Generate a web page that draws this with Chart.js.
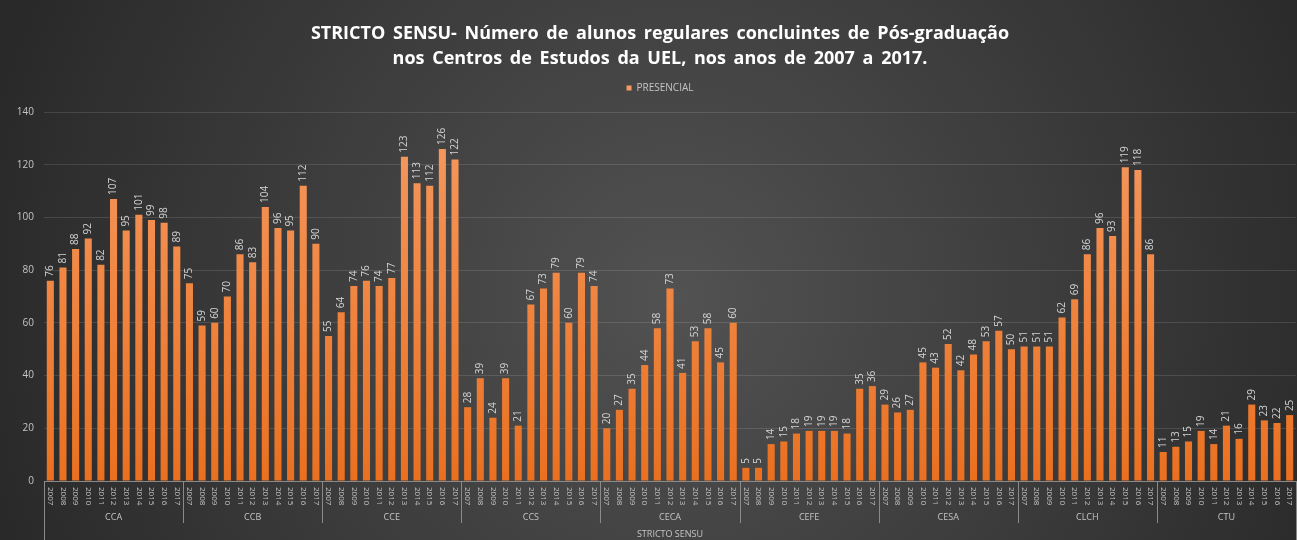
<!DOCTYPE html>
<html>
<head>
<meta charset="utf-8">
<script src="https://cdn.jsdelivr.net/npm/chart.js"></script>
<style>
  html, body { margin: 0; padding: 0; background: #2a2a2a; }
  #wrap { width: 1297px; height: 540px; }
</style>
</head>
<body>
<div id="wrap"><canvas id="chart" width="1297" height="540"></canvas></div>
<script>
const years  = ['2007','2008','2009','2010','2011','2012','2013','2014','2015','2016','2017'];
const groups = ['CCA','CCB','CCE','CCS','CECA','CEFE','CESA','CLCH','CTU'];
const outerLabel = 'STRICTO SENSU';

const cca  = [76, 81, 88, 92, 82, 107, 95, 101, 99, 98, 89];
const ccb  = [75, 59, 60, 70, 86, 83, 104, 96, 95, 112, 90];
const cce  = [55, 64, 74, 76, 74, 77, 123, 113, 112, 126, 122];
const ccs  = [28, 39, 24, 39, 21, 67, 73, 79, 60, 79, 74];
const ceca = [20, 27, 35, 44, 58, 73, 41, 53, 58, 45, 60];
const cefe = [5, 5, 14, 15, 18, 19, 19, 19, 18, 35, 36];
const cesa = [29, 26, 27, 45, 43, 52, 42, 48, 53, 57, 50];
const clch = [51, 51, 51, 62, 69, 86, 96, 93, 119, 118, 86];
const ctu  = [11, 13, 15, 19, 14, 21, 16, 29, 23, 22, 25];

const seriesByGroup = [cca, ccb, cce, ccs, ceca, cefe, cesa, clch, ctu];
const labels = groups.flatMap(() => years);
const values = seriesByGroup.flat();

const txtColor = '#c4c4c4';
const font = '"Open Sans", "Liberation Sans", sans-serif';

// shift a layout box (title / legend) sideways, Excel centres them a bit right
function nudge(box, ctx, dx) {
  if (!box || box._nudged) return;
  const orig = box.draw.bind(box);
  box.draw = function (...a) {
    ctx.save();
    ctx.translate(dx, 0);
    orig(...a);
    ctx.restore();
  };
  box._nudged = true;
}

// dark radial background like the Excel theme; also widens the title's word gaps
const bgPlugin = {
  id: 'bg',
  beforeDraw(chart) {
    const { ctx, width, height } = chart;
    nudge(chart.titleBlock, ctx, 12);
    nudge(chart.legend, ctx, 12);
    const g = ctx.createRadialGradient(width * 0.52, height * 0.55, 0, width * 0.52, height * 0.55, width * 0.55);
    g.addColorStop(0, '#525252');
    g.addColorStop(1, '#292929');
    ctx.save();
    ctx.fillStyle = g;
    ctx.fillRect(0, 0, width, height);
    ctx.restore();
    ctx.wordSpacing = '3px';
  },
  afterDatasetsDraw(chart) {
    chart.ctx.wordSpacing = '0px';
  }
};

// values above the bars, rotated
const valuePlugin = {
  id: 'values',
  afterDatasetsDraw(chart) {
    const { ctx } = chart;
    const meta = chart.getDatasetMeta(0);
    ctx.save();
    ctx.fillStyle = '#d4d4d4';
    ctx.font = '10px ' + font;
    ctx.textAlign = 'left';
    ctx.textBaseline = 'middle';
    meta.data.forEach((bar, i) => {
      ctx.save();
      ctx.translate(bar.x, bar.y - 4);
      ctx.rotate(-Math.PI / 2);
      ctx.fillText(String(values[i]), 0, 0);
      ctx.restore();
    });
    ctx.restore();
  }
};

// multi-level category axis: years, centres, outer label
const axisPlugin = {
  id: 'multiAxis',
  afterDraw(chart) {
    const { ctx, chartArea } = chart;
    const x = chart.scales.x;
    const step = x.width / labels.length;
    const base = chartArea.bottom;
    ctx.save();
    ctx.wordSpacing = '0px';
    ctx.strokeStyle = '#8a8a8a';
    ctx.lineWidth = 1;
    for (let g = 0; g <= groups.length; g++) {
      const px = Math.round(x.left + g * years.length * step) + 0.5;
      ctx.beginPath();
      ctx.moveTo(px, base);
      ctx.lineTo(px, g === 0 || g === groups.length ? 540 : base + 42);
      ctx.stroke();
    }
    ctx.fillStyle = txtColor;
    ctx.font = '8px ' + font;
    ctx.textAlign = 'left';
    ctx.textBaseline = 'middle';
    labels.forEach((lab, i) => {
      const px = x.getPixelForValue(i);
      ctx.save();
      ctx.translate(px, base + 6);
      ctx.rotate(Math.PI / 2);
      ctx.fillText(lab, 0, 0);
      ctx.restore();
    });
    ctx.font = '9px ' + font;
    ctx.textAlign = 'center';
    groups.forEach((g, gi) => {
      const cx = x.left + (gi + 0.5) * years.length * step;
      ctx.fillText(g, cx, base + 36);
    });
    ctx.fillText(outerLabel, (x.left + x.right) / 2, base + 53);
    ctx.restore();
  }
};

new Chart(document.getElementById('chart'), {
  type: 'bar',
  data: {
    labels,
    datasets: [{
      label: 'PRESENCIAL',
      data: values,
      backgroundColor: (c) => {
        const area = c.chart.chartArea;
        if (!area) return '#ed7d31';
        const g = c.chart.ctx.createLinearGradient(0, area.top, 0, area.bottom);
        g.addColorStop(0, '#f59a62');
        g.addColorStop(1, '#ea7020');
        return g;
      },
      borderWidth: 0,
      barPercentage: 0.56,
      categoryPercentage: 1
    }]
  },
  options: {
    responsive: false,
    animation: false,
    devicePixelRatio: 1,
    layout: { padding: { left: 0, right: 1, top: 0, bottom: 0 } },
    scales: {
      x: {
        grid: { display: false },
        border: { display: true, color: '#8a8a8a' },
        ticks: { display: false },
        afterFit(scale) { scale.height = 59; }
      },
      y: {
        min: 0,
        max: 140,
        ticks: { stepSize: 20, color: txtColor, font: { family: font, size: 10 }, padding: 10 },
        grid: { color: 'rgba(255,255,255,0.12)', drawTicks: false },
        border: { display: false },
        afterFit(scale) { scale.width = 44; }
      }
    },
    plugins: {
      title: {
        display: true,
        text: [
          'STRICTO SENSU- Número de alunos regulares concluintes de Pós-graduação',
          'nos Centros de Estudos da UEL, nos anos de 2007 a 2017.'
        ],
        color: '#ffffff',
        font: { family: font, size: 18, weight: 'bold', lineHeight: 25 / 18 },
        padding: { top: 21, bottom: 4 }
      },
      // empty spacer between the legend and the plot
      subtitle: {
        display: true,
        text: '',
        weight: 500,
        font: { size: 1, lineHeight: 1 },
        padding: { top: 8, bottom: 0 }
      },
      legend: {
        display: true,
        labels: {
          color: txtColor,
          font: { family: font, size: 10 },
          boxWidth: 5,
          boxHeight: 5,
          padding: 8
        }
      },
      tooltip: { enabled: false }
    }
  },
  plugins: [bgPlugin, valuePlugin, axisPlugin]
});
</script>
</body>
</html>
